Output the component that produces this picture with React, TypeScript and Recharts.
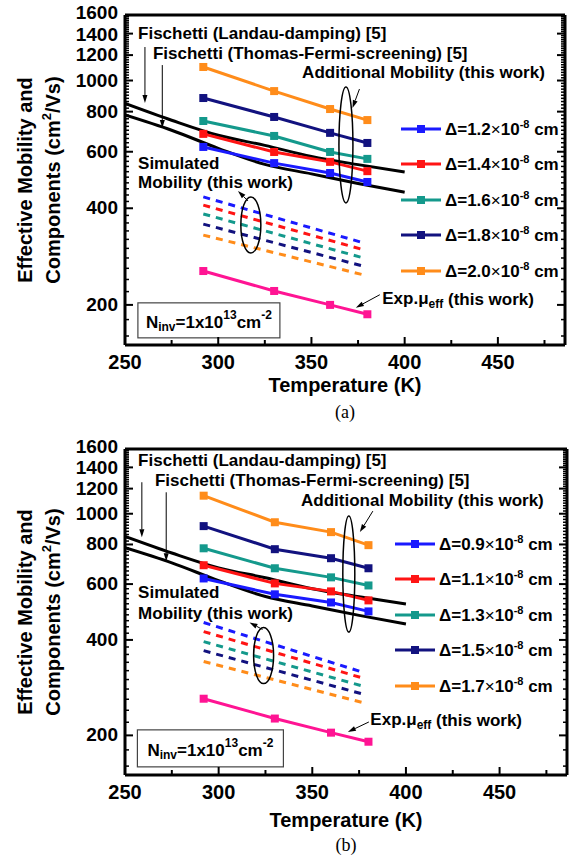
import React from "react";
import { LineChart, Line, XAxis, YAxis, Legend, ReferenceDot } from "recharts";

const FONT = "'Liberation Sans', Arial, sans-serif";

// temperatures (K)
const measuredTemps = [292, 330, 360, 380];
const simTemps = [292, 378];
const fischettiTemps = [250, 275, 300, 325, 350, 375, 400];

// Fischetti reference curves (cm2/Vs)
const landauDamping = [848, 752, 675, 628, 580, 547, 519];
const thomasFermi = [781, 700, 615, 548, 512, 478, 449];

const seriesColors = ["#1a1aff", "#ff1414", "#14998c", "#12127f", "#ff8c1a"];
const expColor = "#ff1493";

// panel (a)
const deltasA = ["1.2", "1.4", "1.6", "1.8", "2.0"];
const additionalA = [
  [621, 553, 515, 483],
  [682, 599, 558, 522],
  [748, 672, 599, 570],
  [882, 770, 687, 639],
  [1102, 927, 815, 753],
];
const simulatedA = [
  [434, 312],
  [409, 297],
  [384, 280],
  [357, 264],
  [330, 248],
];
const expA = [255, 221, 200, 187];

// panel (b)
const deltasB = ["0.9", "1.1", "1.3", "1.5", "1.7"];
const additionalB = [
  [625, 557, 525, 492],
  [688, 603, 569, 533],
  [778, 673, 630, 594],
  [914, 773, 724, 673],
  [1140, 940, 875, 796],
];
const simulatedB = [
  [454, 315],
  [425, 302],
  [395, 285],
  [370, 269],
  [342, 253],
];
const expB = [261, 226, 204, 191];

const xTicks = [250, 275, 300, 325, 350, 375, 400, 425, 450, 475];
const yMajorTicks = [200, 400, 600, 800, 1000, 1200, 1400, 1600];
const yMinorTicks = Array.from({ length: 72 }, (_, i) => 160 + i * 20).filter(
  (v) => !yMajorTicks.includes(v)
);
const yTicks = [...yMinorTicks, ...yMajorTicks].sort((a, b) => a - b);

const toPoints = (ts: number[], vs: number[]) => ts.map((t, i) => ({ t, v: vs[i] }));

const BottomTick = (p: any) => {
  const { x, y, payload } = p;
  const major = payload.value % 50 === 0;
  return (
    <g>
      <line x1={x} x2={x} y1={y} y2={y - (major ? 8 : 5)} stroke="#000" strokeWidth={2} />
      {major && (
        <text x={x} y={y + 24} textAnchor="middle" fontFamily={FONT} fontWeight="bold" fontSize={20} fill="#000">
          {payload.value}
        </text>
      )}
    </g>
  );
};

const TopTick = (p: any) => {
  const { x, y, payload } = p;
  const major = payload.value % 50 === 0;
  return <line x1={x} x2={x} y1={y} y2={y + (major ? 8 : 5)} stroke="#000" strokeWidth={2} />;
};

// the top two labels sit very close together, nudge them apart a little
const labelNudge: Record<number, number> = { 1600: -2, 1400: 1 };

const LeftTick = (p: any) => {
  const { x, y, payload } = p;
  const major = yMajorTicks.includes(payload.value);
  return (
    <g>
      <line x1={x} x2={x + (major ? 8 : 4)} y1={y} y2={y} stroke="#000" strokeWidth={major ? 2 : 1.5} />
      {major && (
        <text
          x={x - 7}
          y={y + 6 + (labelNudge[payload.value] || 0)}
          textAnchor="end"
          fontFamily={FONT}
          fontWeight="bold"
          fontSize={19}
          fill="#000"
        >
          {payload.value}
        </text>
      )}
    </g>
  );
};

const RightTick = (p: any) => {
  const { x, y, payload } = p;
  const major = yMajorTicks.includes(payload.value);
  return <line x1={x} x2={x - (major ? 8 : 4)} y1={y} y2={y} stroke="#000" strokeWidth={major ? 2 : 1.5} />;
};

const squareDot = (color: string) => (p: any) => (
  <rect key={`d-${p.index}`} x={p.cx - 4} y={p.cy - 4} width={8} height={8} fill={color} />
);

// annotation helpers, anchored at data coordinates
type Note = { t: number; v: number; draw: (cx: number, cy: number) => React.ReactElement };

const textStyle = { fontFamily: FONT, fontWeight: "bold" as const, fontSize: 17, fill: "#000" };

const label = (s: string) => (cx: number, cy: number) => (
  <text x={cx} y={cy} dominantBaseline="central" {...textStyle}>
    {s}
  </text>
);

const expLabel = (cx: number, cy: number) => (
  <text x={cx} y={cy} dominantBaseline="central" {...textStyle}>
    Exp.μ
    <tspan dy={5} fontSize={12}>
      eff
    </tspan>
    <tspan dy={-5}>{"  (this work)"}</tspan>
  </text>
);

const ninvBox = (w: number, h: number) => (cx: number, cy: number) => (
  <g>
    <rect x={cx - w / 2} y={cy - h / 2} width={w} height={h} fill="#fff" stroke="#444" strokeWidth={1.2} />
    <text x={cx} y={cy + 2} textAnchor="middle" dominantBaseline="central" {...textStyle}>
      N
      <tspan dy={5} fontSize={12}>
        inv
      </tspan>
      <tspan dy={-5}>=1x10</tspan>
      <tspan dy={-7} fontSize={12}>
        13
      </tspan>
      <tspan dy={7}>cm</tspan>
      <tspan dy={-7} fontSize={12}>
        -2
      </tspan>
    </text>
  </g>
);

const arrow = (dx: number, dy: number) => (cx: number, cy: number) => {
  const len = Math.hypot(dx, dy);
  const ux = -dx / len;
  const uy = -dy / len;
  const bx = cx - ux * 8;
  const by = cy - uy * 8;
  return (
    <g>
      <line x1={cx + dx} y1={cy + dy} x2={bx} y2={by} stroke="#000" strokeWidth={1} />
      <polygon
        points={`${cx},${cy} ${bx - uy * 2.5},${by + ux * 2.5} ${bx + uy * 2.5},${by - ux * 2.5}`}
        fill="#000"
      />
    </g>
  );
};

const ellipse = (rx: number, ry: number) => (cx: number, cy: number) => (
  <ellipse cx={cx} cy={cy} rx={rx} ry={ry} fill="none" stroke="#000" strokeWidth={1.5} />
);

const notesA: Note[] = [
  { t: 257, v: 1406, draw: label("Fischetti (Landau-damping) [5]") },
  { t: 265, v: 1218, draw: label("Fischetti (Thomas-Fermi-screening) [5]") },
  { t: 345, v: 1062, draw: label("Additional Mobility (this work)") },
  { t: 257, v: 553, draw: label("Simulated") },
  { t: 257, v: 480, draw: label("Mobility (this work)") },
  { t: 388, v: 209, draw: expLabel },
  { t: 295, v: 179, draw: ninvBox(142, 35) },
  { t: 260.7, v: 851, draw: arrow(0, -56) },
  { t: 270, v: 711, draw: arrow(0, -63) },
  { t: 372, v: 821, draw: arrow(7, -19) },
  { t: 310.6, v: 453, draw: arrow(10, 10) },
  { t: 373.8, v: 196, draw: arrow(24, -13) },
  { t: 368.5, v: 630, draw: ellipse(7, 58) },
  { t: 317.5, v: 355, draw: ellipse(10, 28) },
];

const notesB: Note[] = [
  { t: 257, v: 1467, draw: label("Fischetti (Landau-damping) [5]") },
  { t: 266, v: 1269, draw: label("Fischetti (Thomas-Fermi-screening) [5]") },
  { t: 344, v: 1104, draw: label("Additional Mobility (this work)") },
  { t: 257, v: 565, draw: label("Simulated") },
  { t: 257, v: 485, draw: label("Mobility (this work)") },
  { t: 381, v: 224, draw: expLabel },
  { t: 295.6, v: 182, draw: ninvBox(146, 37) },
  { t: 259, v: 843, draw: arrow(0, -55) },
  { t: 272, v: 708, draw: arrow(0, -69) },
  { t: 375.4, v: 875, draw: arrow(13, -21) },
  { t: 316.5, v: 454, draw: arrow(13, 7) },
  { t: 369, v: 205, draw: arrow(21, -10) },
  { t: 369.5, v: 645, draw: ellipse(6, 58) },
  { t: 324, v: 357, draw: ellipse(10, 28) },
];

const LegendBox = ({ deltas }: { deltas: string[] }) => (
  <div style={{ fontFamily: FONT, fontWeight: "bold", fontSize: 17, color: "#000" }}>
    {deltas.map((d, i) => (
      <div key={d} style={{ height: 35.5, display: "flex", alignItems: "center" }}>
        <svg width={42} height={12}>
          <line x1={0} y1={6} x2={40} y2={6} stroke={seriesColors[i]} strokeWidth={3} />
          <rect x={16} y={2} width={8} height={8} fill={seriesColors[i]} />
        </svg>
        <span style={{ marginLeft: 2, whiteSpace: "nowrap" }}>
          Δ={d}
          <span style={{ fontWeight: "normal" }}>×</span>10
          <sup style={{ fontSize: 11 }}>-8</sup> cm
        </span>
      </div>
    ))}
  </div>
);

type PanelProps = {
  deltas: string[];
  additional: number[][];
  simulated: number[][];
  exp: number[];
  notes: Note[];
  height: number;
  top: number;
  axisH: number;
  rightW: number;
  legendTop: number;
  legendLeft: number;
  caption: string;
  titleDy: number;
  captionDy: number;
};

function Panel(props: PanelProps) {
  const { deltas, additional, simulated, exp, notes, height, top, axisH, rightW } = props;
  const axisLine = { stroke: "#000", strokeWidth: 3 };
  return (
    <LineChart width={573} height={height} margin={{ top, right: 0, bottom: 0, left: 0 }}>
      <XAxis
        xAxisId="b"
        type="number"
        dataKey="t"
        domain={[250, 486]}
        allowDataOverflow
        ticks={xTicks}
        interval={0}
        height={axisH}
        tickLine={false}
        tickSize={0}
        tickMargin={0}
        axisLine={axisLine}
        tick={<BottomTick />}
        label={(lp: any) => {
          const vb = lp.viewBox;
          const cx = vb.x + vb.width / 2;
          return (
            <g>
              <text x={cx} y={vb.y + props.titleDy} textAnchor="middle" fontFamily={FONT} fontWeight="bold" fontSize={20}>
                Temperature (K)
              </text>
              <text x={cx} y={vb.y + props.captionDy} textAnchor="middle" fontFamily="'Liberation Serif', 'DejaVu Serif', serif" fontSize={18}>
                {props.caption}
              </text>
            </g>
          );
        }}
      />
      <XAxis
        xAxisId="t"
        orientation="top"
        type="number"
        domain={[250, 486]}
        allowDataOverflow
        ticks={xTicks}
        interval={0}
        height={2}
        tickLine={false}
        tickSize={0}
        tickMargin={0}
        axisLine={axisLine}
        tick={<TopTick />}
      />
      <YAxis
        yAxisId="l"
        type="number"
        scale="log"
        domain={[150, 1600]}
        allowDataOverflow
        ticks={yTicks}
        interval={0}
        width={125}
        tickLine={false}
        tickSize={0}
        tickMargin={0}
        axisLine={axisLine}
        tick={<LeftTick />}
        label={(lp: any) => {
          const vb = lp.viewBox;
          const cy = vb.y + vb.height / 2;
          const x1 = vb.x + 25;
          const x2 = vb.x + 53;
          return (
            <g fontFamily={FONT} fontWeight="bold" fontSize={20}>
              <text x={x1} y={cy} transform={`rotate(-90, ${x1}, ${cy})`} textAnchor="middle" dominantBaseline="central">
                Effective Mobility and
              </text>
              <text x={x2} y={cy} transform={`rotate(-90, ${x2}, ${cy})`} textAnchor="middle" dominantBaseline="central">
                Components (cm
                <tspan dy={-7} fontSize={13}>
                  2
                </tspan>
                <tspan dy={7}>/Vs)</tspan>
              </text>
            </g>
          );
        }}
      />
      <YAxis
        yAxisId="r"
        orientation="right"
        type="number"
        scale="log"
        domain={[150, 1600]}
        allowDataOverflow
        ticks={yTicks}
        interval={0}
        width={rightW}
        tickLine={false}
        tickSize={0}
        tickMargin={0}
        axisLine={axisLine}
        tick={<RightTick />}
      />

      <Line
        xAxisId="b"
        yAxisId="l"
        data={toPoints(fischettiTemps, landauDamping)}
        dataKey="v"
        type="monotone"
        stroke="#000"
        strokeWidth={3}
        dot={false}
        isAnimationActive={false}
      />
      <Line
        xAxisId="b"
        yAxisId="l"
        data={toPoints(fischettiTemps, thomasFermi)}
        dataKey="v"
        type="monotone"
        stroke="#000"
        strokeWidth={3}
        dot={false}
        isAnimationActive={false}
      />
      {simulated.map((s, i) => (
        <Line
          key={`sim-${i}`}
          xAxisId="b"
          yAxisId="l"
          data={toPoints(simTemps, s)}
          dataKey="v"
          stroke={seriesColors[i]}
          strokeWidth={3}
          strokeDasharray="7 6"
          dot={false}
          isAnimationActive={false}
        />
      ))}
      {additional.map((s, i) => (
        <Line
          key={`add-${i}`}
          xAxisId="b"
          yAxisId="l"
          data={toPoints(measuredTemps, s)}
          dataKey="v"
          stroke={seriesColors[i]}
          strokeWidth={3}
          dot={squareDot(seriesColors[i])}
          isAnimationActive={false}
        />
      ))}
      <Line
        xAxisId="b"
        yAxisId="l"
        data={toPoints(measuredTemps, exp)}
        dataKey="v"
        stroke={expColor}
        strokeWidth={3}
        dot={squareDot(expColor)}
        isAnimationActive={false}
      />

      {notes.map((n, i) => (
        <ReferenceDot
          key={`note-${i}`}
          xAxisId="b"
          yAxisId="l"
          x={n.t}
          y={n.v}
          r={1}
          ifOverflow="visible"
          shape={(p: any) => n.draw(p.cx, p.cy)}
        />
      ))}

      <Legend
        layout="vertical"
        align="center"
        verticalAlign="middle"
        wrapperStyle={{ top: props.legendTop, left: props.legendLeft, width: 175 }}
        content={() => <LegendBox deltas={deltas} />}
      />
    </LineChart>
  );
}

export default function App() {
  return (
    <div style={{ position: "absolute", left: 0, top: 0, width: 573, height: 858, background: "#fff" }}>
      <div style={{ position: "absolute", left: 0, top: 0 }}>
        <Panel
          deltas={deltasA}
          additional={additionalA}
          simulated={simulatedA}
          exp={expA}
          notes={notesA}
          height={430}
          top={13}
          axisH={85}
          rightW={8}
          legendTop={111}
          legendLeft={401}
          caption="(a)"
          titleDy={47}
          captionDy={73}
        />
      </div>
      <div style={{ position: "absolute", left: 0, top: 430 }}>
        <Panel
          deltas={deltasB}
          additional={additionalB}
          simulated={simulatedB}
          exp={expB}
          notes={notesB}
          height={428}
          top={17}
          axisH={83}
          rightW={6}
          legendTop={96}
          legendLeft={395}
          caption="(b)"
          titleDy={52}
          captionDy={76}
        />
      </div>
    </div>
  );
}
